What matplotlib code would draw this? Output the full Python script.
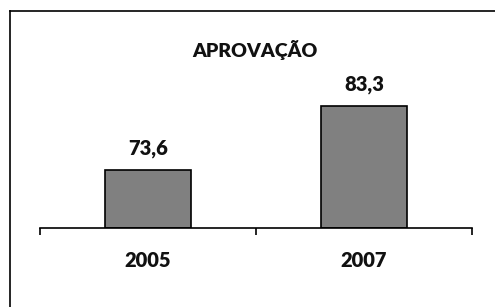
import matplotlib
matplotlib.use("Agg")
import matplotlib.pyplot as plt
from matplotlib.lines import Line2D
from matplotlib.transforms import offset_copy

categories = ["2005", "2007"]
values = [73.6, 83.3]
value_labels = ["73,6", "83,3"]
title = "APROVAÇÃO"

W, H = 495, 307
fig = plt.figure(figsize=(W / 100, H / 100), dpi=100)
fig.patch.set_facecolor("white")

FONT = ["Lato", "DejaVu Sans"]
FS = 14.5
WEIGHT = 800

# axes: x 40..472 px, baseline at y=228 px
ax_left = 40 / W
ax_w = (472 - 40) / W
ax_bottom = (H - 228) / H
ymin, ymax = 64.8, 90.0
px_per_unit = 6.59
ax_h = (ymax - ymin) * px_per_unit / H
ax = fig.add_axes([ax_left, ax_bottom, ax_w, ax_h])

x = list(range(len(categories)))
bars = ax.bar(x, [v - ymin for v in values], bottom=ymin, width=0.4,
              color="#808080", edgecolor="black", linewidth=1.2)
ax.set_xlim(-0.5, len(categories) - 0.5)
ax.set_ylim(ymin, ymax)

for xi, v, lab in zip(x, values, value_labels):
    ax.annotate(lab, (xi, v), xytext=(0, 11), textcoords="offset points",
                ha="center", va="baseline", fontsize=FS, fontweight=WEIGHT,
                family=FONT, color="#111111")

for s in ["top", "right", "left"]:
    ax.spines[s].set_visible(False)
ax.spines["bottom"].set_linewidth(1.2)
ax.set_yticks([])
ax.set_xticks([-0.5, 0.5, 1.5], minor=False)
ax.set_xticklabels([])
ax.tick_params(axis="x", direction="out", length=5, width=1.2, color="black")
lab_tr = offset_copy(ax.get_xaxis_transform(), fig=fig, x=0, y=-39, units="dots")
for xi, c in zip(x, categories):
    ax.text(xi, 0, c, transform=lab_tr, ha="center",
            va="baseline", fontsize=FS, fontweight=WEIGHT, family=FONT, color="#111111")

fig.text(255 / W, 1 - 57 / H, title, ha="center", va="baseline", fontsize=14,
         fontweight=WEIGHT, family=FONT, color="#111111")

# outer border (top and left visible)
fig.add_artist(Line2D([10 / W, 1.0], [1 - 10.5 / H, 1 - 10.5 / H],
                      transform=fig.transFigure, color="black", linewidth=1.2))
fig.add_artist(Line2D([10 / W, 10 / W], [0, 1 - 10.5 / H],
                      transform=fig.transFigure, color="black", linewidth=1.2))

fig.savefig("out.png", dpi=100, facecolor="white")
